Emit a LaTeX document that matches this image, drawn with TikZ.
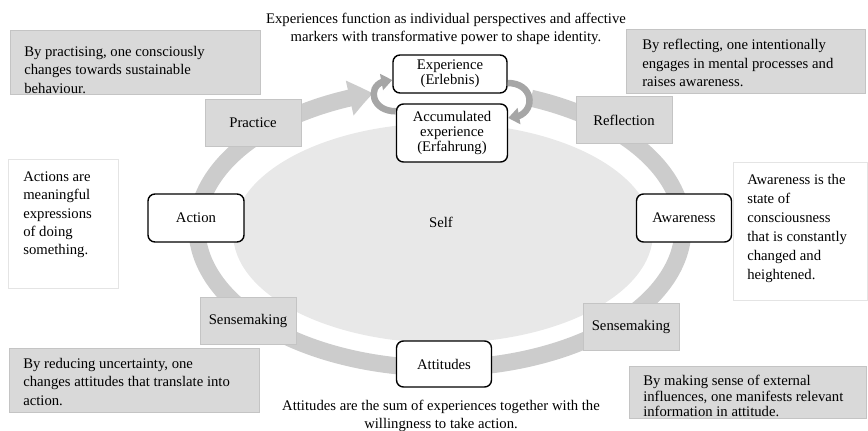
\documentclass[tikz,border=0pt]{standalone}
\usepackage{fontspec}
\setmainfont{Liberation Serif}
\usetikzlibrary{arrows.meta, bending}

\definecolor{ringgray}{HTML}{CCCCCC}
\definecolor{loopgray}{HTML}{A6A6A6}
\definecolor{selfgray}{HTML}{E8E8E8}
\definecolor{boxgray}{HTML}{D9D9D9}
\definecolor{edgegray}{HTML}{C4C4C4}
\definecolor{paleedge}{HTML}{E4E4E4}

\begin{document}
\begin{tikzpicture}[
            x = 1pt, y = -1pt, % one unit per pixel, y grows downwards
            font = \fontsize{14.7}{18.3}\selectfont,
            > = {Triangle[length=11pt, width=16pt]}, % arrow head style
            semithick % line style
        ]

        \tikzstyle{stage}=[
            draw = black,
            line width = 1.4pt,
            rounded corners = 7pt,
            fill = white,
            align = center,
            inner sep = 2pt,
            font = \fontsize{14.7}{15.3}\selectfont
        ]
        \tikzstyle{phase}=[
            draw = edgegray,
            thin,
            fill = boxgray,
            minimum width = 96,
            minimum height = 47
        ]
        \tikzstyle{note}=[
            draw = edgegray,
            thin,
            fill = boxgray
        ]
        \tikzstyle{plainnote}=[
            draw = paleedge,
            thin,
            fill = white
        ]
        \tikzstyle{notetext}=[
            align = left,
            inner sep = 0pt,
            anchor = west
        ]

        \useasboundingbox (0,0) rectangle (868,431);

        % self and the big cycle
        \fill[selfgray] (443,233) ellipse [x radius=210, y radius=110];
        \node (self) at (441,222) {Self};

        \draw[ringgray, line width=17pt, -{Triangle[length=24pt, width=34pt, bend]}]
            (440,228) ++(-68:243 and 140)
            arc [start angle=-68, end angle=254, x radius=243, y radius=140];

        \node[stage, minimum width=114, minimum height=38] (exper) at (450,74) {Experience\\(Erlebnis)};
        \node[stage, minimum width=111, minimum height=58] (accum) at (452,133) {Accumulated\\experience\\(Erfahrung)};
        \node[stage, minimum width=96, minimum height=48] (action) at (196,218) {Action};
        \node[stage, minimum width=95, minimum height=48] (aware) at (684,218) {Awareness};
        \node[stage, minimum width=95, minimum height=46] (attit) at (444,364) {Attitudes};

        \node[phase] (practice) at (253,123) {Practice};
        \node[phase] (reflect) at (624,120) {Reflection};
        \node[phase] (sensel) at (248,321) {Sensemaking};
        \node[phase] (senser) at (631,327) {Sensemaking};

        \draw[loopgray, line width=6.5pt, ->] ([yshift=-8pt]accum.north west) to[out=180, in=180, looseness=2.2] ([yshift=-6pt]exper.west);
        \draw[loopgray, line width=6.5pt, ->] ([yshift=-9pt]exper.east) to[out=0, in=0, looseness=2.1] ([yshift=15pt]accum.east);

        % explanations
        \node[align=center] (experlabel) at (446,29) {Experiences function as individual perspectives and affective\\markers with transformative power to shape identity.};
        \node[align=center] (attitlabel) at (441,416) {Attitudes are the sum of experiences together with the\\willingness to take action.};

        \node[note, minimum width=250, minimum height=64] (practisebox) at (135,62) {};
        \node[notetext] (practisetext) at (24,70) {By practising, one consciously\\changes towards sustainable\\behaviour.};

        \node[note, minimum width=239, minimum height=64] (reflectbox) at (746,61) {};
        \node[notetext] (reflecttext) at (642,63) {By reflecting, one intentionally\\engages in mental processes and\\raises awareness.};

        \node[note, minimum width=250, minimum height=64] (reducebox) at (134,380) {};
        \node[notetext] (reducetext) at (23,382) {By reducing uncertainty, one\\changes attitudes that translate into\\action.};

        \node[note, minimum width=237, minimum height=52] (sensebox) at (748,392) {};
        \node[notetext, font=\fontsize{14.7}{15.5}\selectfont] (sensetext) at (643,396) {By making sense of external\\influences, one manifests relevant\\information in attitude.};

        \node[plainnote, minimum width=110, minimum height=129] (actionbox) at (63,224) {};
        \node[notetext] (actiontext) at (23,215) {Actions are\\meaningful\\expressions\\of doing\\something.};

        \node[plainnote, minimum width=134, minimum height=138] (awarebox) at (800,231) {};
        \node[notetext, font=\fontsize{14.7}{19}\selectfont] (awaretext) at (747,228) {Awareness is the\\state of\\consciousness\\that is constantly\\changed and\\heightened.};
    \end{tikzpicture}
\end{document}
